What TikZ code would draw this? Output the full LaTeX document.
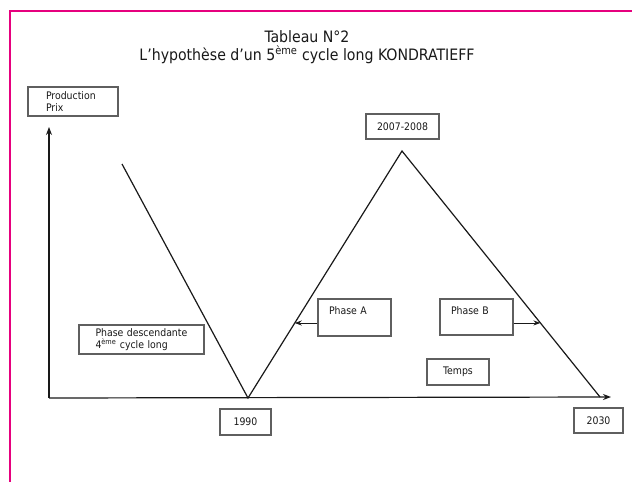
\documentclass[tikz,border=0pt]{standalone}
\usepackage{fontspec}
\setmainfont{DejaVu Sans Condensed}
\usetikzlibrary{arrows.meta,calc}
\definecolor{frame}{RGB}{230,0,126}
\definecolor{ink}{RGB}{25,25,25}
\definecolor{boxline}{RGB}{95,95,95}
\begin{document}
\begin{tikzpicture}[x=1pt,y=-1pt,
  txtbox/.style={draw=boxline, line width=1.1pt, rectangle, inner ysep=0pt,
    text=ink, font=\fontsize{10.4}{12}\selectfont, align=left},
  yearbox/.style={txtbox, align=center, inner xsep=0pt},
  curve/.style={draw=ink, line width=1.2pt},
  axis/.style={draw=ink, line width=1.2pt, -{Stealth[length=8pt,width=6pt]}},
  parrow/.style={draw=ink, line width=0.9pt, -{Stealth[length=7pt,width=5pt]}}]
\useasboundingbox (0,0) rectangle (632,482);
\fill[white] (0,0) rectangle (632,482);
% frame
\draw[frame, line width=2.6pt] (10,490) -- (10,11) -- (640,11);
% title
\node[text=ink, font=\fontsize{15.7}{17.5}\selectfont, align=center] (title) at (307,47)
  {Tableau N°2\\L’hypothèse d’un 5\textsuperscript{ème} cycle long KONDRATIEFF};
% axes
\coordinate (origin) at (49,398);
\coordinate (ytop) at (49,127);
\coordinate (xend) at (611,397);
\draw[axis] (origin) -- (ytop);
\draw[axis] (origin) -- (xend);
% cycle curve
\coordinate (start) at (122,164);
\coordinate (trough) at (248,398);
\coordinate (peak) at (402,151);
\coordinate (finish) at (600,397);
\draw[curve, line join=miter] (start) -- (trough) -- (peak) -- (finish);
% boxes
\node[txtbox, text width=54pt, inner xsep=18pt, minimum height=29pt] (prod) at (73,101.5)
  {Production\\Prix};
\node[txtbox, text width=92pt, inner xsep=16.5pt, minimum height=29pt] (desc) at (141.5,339.5)
  {Phase descendante\\4\textsuperscript{ème} cycle long};
\node[yearbox, minimum width=51pt, minimum height=26pt] (y1990) at (245.5,422) {1990};
\node[yearbox, minimum width=73pt, minimum height=25pt] (y2007) at (402.5,126.5) {2007-2008};
\node[yearbox, minimum width=49pt, minimum height=25pt] (y2030) at (598.5,420.5) {2030};
\node[yearbox, minimum width=62pt, minimum height=26pt] (temps) at (458,372) {Temps};
\node[txtbox, text width=51pt, inner xsep=11pt, minimum height=37pt] (phaseA) at (354.5,317.5)
  {Phase A\\[1pt]\phantom{x}};
\node[txtbox, text width=51pt, inner xsep=11pt, minimum height=36pt] (phaseB) at (476.5,317)
  {Phase B\\[1pt]\phantom{x}};
% phase arrows
\coordinate (pa) at ($(trough)!0.3036!(peak)$);
\coordinate (pb) at ($(peak)!0.699!(finish)$);
\draw[parrow] (phaseA.west |- pa) -- (pa);
\draw[parrow] (phaseB.east |- pb) -- (pb);
\end{tikzpicture}
\end{document}
